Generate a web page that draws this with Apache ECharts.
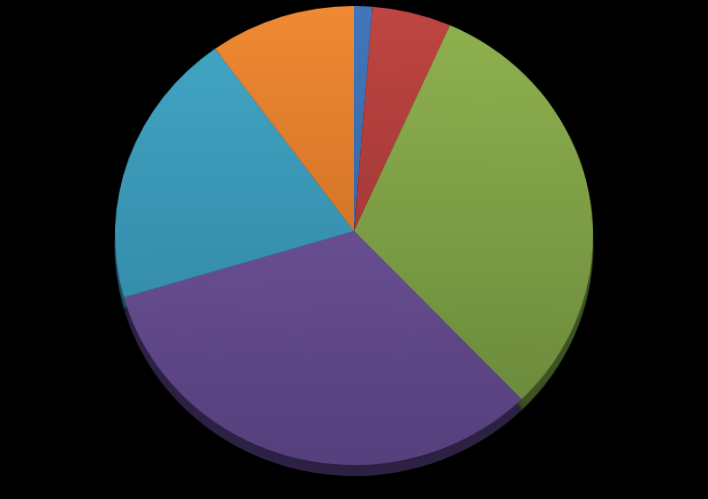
<!DOCTYPE html>
<html><head><meta charset="utf-8">
<script src="https://cdn.jsdelivr.net/npm/echarts@6/dist/echarts.min.js"></script>
<style>
html,body{margin:0;padding:0;background:#000;overflow:hidden;width:708px;height:499px;position:relative;}
#chart{position:absolute;left:0;top:-40px;width:708px;height:580px;
  transform-origin:354px 271px;
  transform:perspective(3423px) rotateX(16.3deg);}
</style></head><body>
<div id="chart"></div>
<script>
var categories = ['A','B','C','D','E','F'];
var values = [1.25, 5.45, 31.15, 32.5, 19.6, 10.05];
var topColors = ['#4276BB','#BE4542','#90B24F','#7B5DA5','#43A7C6','#F08933'];
var bottomColors = ['#2F5A94','#8E2E2C','#67853A','#553F7C','#2C7F9C','#B8621E'];
var rimColors = ['#1f3a60','#5a1d1c','#3e5222','#2c2142','#1a4c5e','#6e3a12'];

function grad(i){
  return new echarts.graphic.LinearGradient(0, 32, 0, 510, [
    {offset:0, color: topColors[i]},
    {offset:1, color: bottomColors[i]}
  ], true);
}
var chart = echarts.init(document.getElementById('chart'), null, {renderer:'canvas'});
chart.setOption({
  backgroundColor:'transparent',
  animation:false,
  series:[
    {
      type:'pie', silent:true, z:1,
      center:[354, 282], radius:[0, 239], startAngle:90, clockwise:true,
      label:{show:false}, labelLine:{show:false},
      itemStyle:{shadowBlur:8, shadowColor:'rgba(0,0,0,0.8)'},
      data: categories.map(function(c,i){return {name:c, value:values[i], itemStyle:{color:rimColors[i]}};})
    },
    {
      type:'pie', silent:true, z:2,
      center:[354, 271], radius:[0, 239], startAngle:90, clockwise:true,
      label:{show:false}, labelLine:{show:false},
      itemStyle:{borderWidth:0},
      data: categories.map(function(c,i){return {name:c, value:values[i], itemStyle:{color:grad(i)}};})
    }
  ]
});
</script>
</body></html>
